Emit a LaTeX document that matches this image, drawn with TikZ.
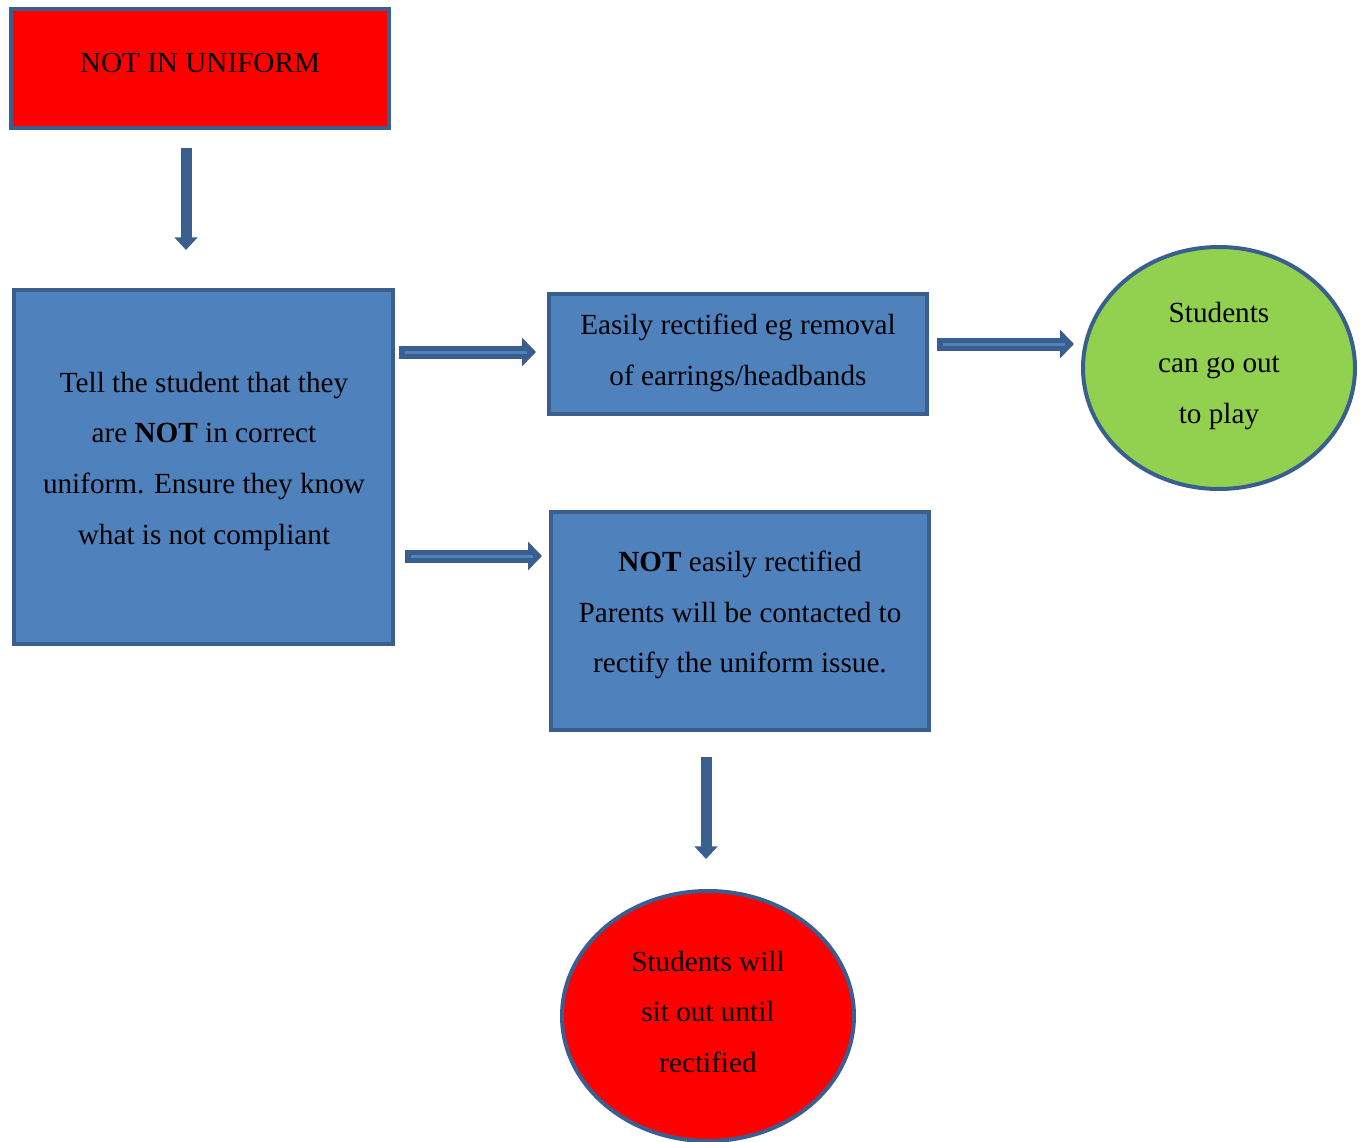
\documentclass[tikz,border=0pt]{standalone}
\usepackage{fontspec}
\setmainfont{Liberation Serif}
\usetikzlibrary{shapes.geometric,arrows.meta}
\definecolor{boxblue}{HTML}{4F81BD}
\definecolor{edgeblue}{HTML}{3A5F8E}
\definecolor{leafgreen}{HTML}{92D050}
\definecolor{alarmred}{HTML}{FF0000}
\begin{document}
\begin{tikzpicture}[x=0.75pt,y=-0.75pt,
  txt/.style={font=\fontsize{21.9pt}{38pt}\selectfont, align=center, text=black},
  boxnode/.style={txt, draw=edgeblue, line width=3pt, inner sep=0pt, rectangle},
  ovalnode/.style={txt, draw=edgeblue, line width=3pt, ellipse, inner sep=0pt},
  varrow/.style={draw=edgeblue, line width=8.25pt, -{Triangle[width=17pt,length=9.5pt]}},
  harrow/.style={draw=edgeblue, line width=9.75pt, -{Triangle[width=21pt,length=10.5pt]}},
  hinner/.style={draw=boxblue, line width=2.25pt, shorten <=4.5pt, shorten >=7pt}
]
\useasboundingbox (0,0) rectangle (1365,1142);

\node[boxnode, fill=alarmred, minimum width=283.5pt, minimum height=89.25pt] (start) at (200,68.5) {};
\node[txt] (starttxt) at (200,63) {NOT IN UNIFORM};

\node[boxnode, fill=boxblue, minimum width=284.25pt, minimum height=265.5pt] (tell) at (203.5,467) {};
\node[txt] (telltxt) at (204,461) {Tell the student that they\\are \textbf{NOT} in correct\\uniform. Ensure they know\\what is not compliant};

\node[boxnode, fill=boxblue, minimum width=283.5pt, minimum height=90pt] (easy) at (738,354) {};
\node[txt] (easytxt) at (738,353) {Easily rectified eg removal\\of earrings/headbands};

\node[boxnode, fill=boxblue, minimum width=283.5pt, minimum height=163.5pt] (hard) at (740,621) {};
\node[txt] (hardtxt) at (740,615) {\textbf{NOT} easily rectified\\Parents will be contacted to\\rectify the uniform issue.};

\node[ovalnode, fill=leafgreen, minimum width=204pt, minimum height=181.5pt] (play) at (1219,368) {};
\node[txt] (playtxt) at (1219,366) {Students\\can go out\\to play};

\node[ovalnode, fill=alarmred, minimum width=219pt, minimum height=187.5pt] (sit) at (708,1016) {};
\node[txt] (sittxt) at (708,1012) {Students will\\sit out until\\rectified};

\coordinate (v1s) at (186,148);
\coordinate (v1e) at (186,250);
\coordinate (h1s) at (399,352);
\coordinate (h1e) at (536,352);
\coordinate (h2s) at (405,556);
\coordinate (h2e) at (542,556);
\coordinate (h3s) at (937,344);
\coordinate (h3e) at (1074,344);
\coordinate (v2s) at (706,757);
\coordinate (v2e) at (706,859);

\draw[varrow] (v1s) -- (v1e);
\draw[varrow] (v2s) -- (v2e);
\draw[harrow] (h1s) -- (h1e);
\draw[hinner] (h1s) -- (h1e);
\draw[harrow] (h2s) -- (h2e);
\draw[hinner] (h2s) -- (h2e);
\draw[harrow] (h3s) -- (h3e);
\draw[hinner] (h3s) -- (h3e);
\end{tikzpicture}
\end{document}
